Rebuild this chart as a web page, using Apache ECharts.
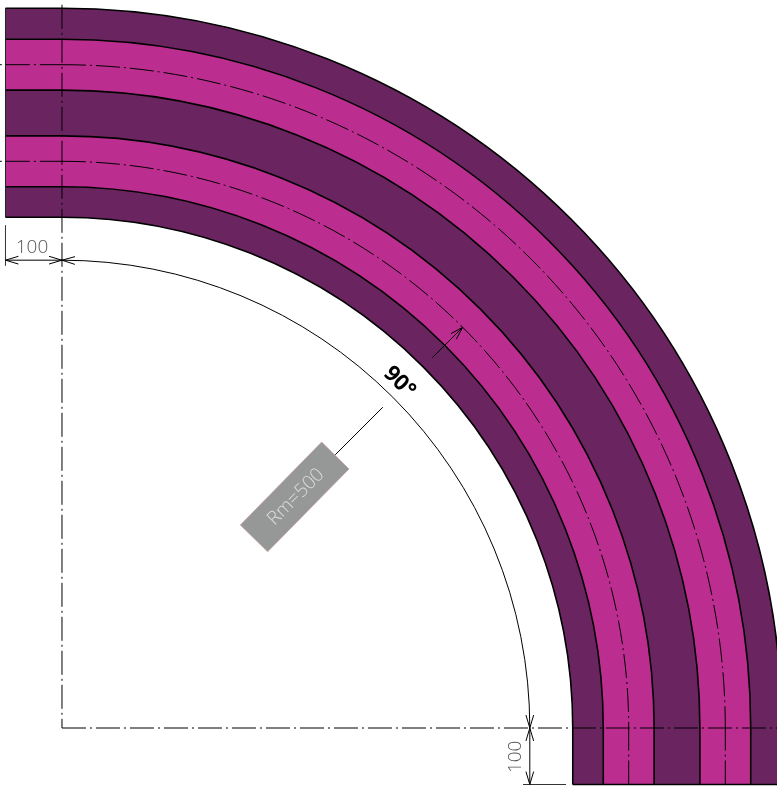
<!DOCTYPE html>
<html><head><meta charset="utf-8">
<style>html,body{margin:0;padding:0;background:#fff}#c{width:777px;height:787px}</style>
<script src="https://cdn.jsdelivr.net/npm/echarts@6/dist/echarts.min.js"></script>
</head><body><div id="c"></div>
<script>
// Values in drawing units (mm), origin at the bend centre
const bandInner = [904, 958, 1048, 1129, 1219];
const bandOuter = [958, 1048, 1129, 1219, 1274];
const bandKind = [0, 1, 0, 1, 0];
const centerRadii = [1003, 1174];
const dimensionRadius = [828];
const tailLength = [100];
const labels = ['100', '100', '90°', 'Rm=500'];
const labelX = [-53, 803, 597, 414];
const labelY = [851, -51, 612, 409];
const leaderRadii = [684, 803];
const pitchRadii = [927, 1003];
const boxX = [459.6, 508, 364, 315.6];
const boxY = [506.2, 458.4, 312, 359.3];

const DARK = '#6a2560', BRIGHT = '#bb2d8f', DASH = [24, 4, 2, 4];
const tail = tailLength[0];
const allRadii = bandInner.concat(bandOuter[bandOuter.length - 1]);

function sectorArc(api, r, style) {
  const c = api.coord([0, 0]), pr = api.size([r, 0])[0];
  return {type: 'arc', shape: {cx: c[0], cy: c[1], r: pr, startAngle: -Math.PI / 2, endAngle: 0, clockwise: true}, style: Object.assign({fill: null}, style)};
}
function seg(api, a, b, style) {
  const p = api.coord(a), q = api.coord(b);
  return {type: 'line', shape: {x1: p[0], y1: p[1], x2: q[0], y2: q[1]}, style: style};
}
function head(api, tip, from, style) {
  const p = api.coord(tip), q = api.coord(from);
  const a = Math.atan2(q[1] - p[1], q[0] - p[0]), L = 13.5, W = 0.29;
  return [1, -1].map(s => ({type: 'line', shape: {x1: p[0], y1: p[1], x2: p[0] + L * Math.cos(a + s * W), y2: p[1] + L * Math.sin(a + s * W)}, style: style}));
}

const bandSeries = {
  type: 'custom', coordinateSystem: 'cartesian2d', silent: true, z: 1,
  data: bandInner.map((r, i) => [r, bandOuter[i], bandKind[i]]),
  renderItem: (p, api) => {
    const r0 = api.value(0), r1 = api.value(1), fill = api.value(2) ? BRIGHT : DARK;
    const c = api.coord([0, 0]);
    const pr0 = api.size([r0, 0])[0], pr1 = api.size([r1, 0])[0];
    const a = api.coord([-tail, r1]), b = api.size([tail, r1 - r0]);
    const d = api.coord([r0, 0]), e = api.size([r1 - r0, tail]);
    return {type: 'group', children: [
      {type: 'sector', shape: {cx: c[0], cy: c[1], r0: pr0, r: pr1, startAngle: -Math.PI / 2, endAngle: 0, clockwise: true}, style: {fill: fill}},
      {type: 'rect', shape: {x: a[0], y: a[1], width: b[0] + 0.5, height: b[1]}, style: {fill: fill}},
      {type: 'rect', shape: {x: d[0], y: d[1] - 0.5, width: e[0], height: e[1] + 0.5}, style: {fill: fill}}
    ]};
  }
};
const edge = {stroke: '#000', lineWidth: 1.6, fill: null};
const edgeSeries = {
  type: 'custom', coordinateSystem: 'cartesian2d', silent: true, z: 2,
  data: allRadii.map(r => [r]),
  renderItem: (p, api) => {
    const r = api.value(0);
    return {type: 'group', children: [
      sectorArc(api, r, edge),
      seg(api, [-tail, r], [0, r], edge),
      seg(api, [r, -tail], [r, 0], edge)
    ]};
  }
};
const closeSeries = {
  type: 'custom', coordinateSystem: 'cartesian2d', silent: true, z: 2,
  data: [[allRadii[0], allRadii[allRadii.length - 1]]],
  renderItem: (p, api) => {
    const a = api.value(0), b = api.value(1), st = {stroke: '#222', lineWidth: 1};
    return {type: 'group', children: [
      seg(api, [-tail, a], [-tail, b], st),
      seg(api, [a, -tail], [b, -tail], edge)
    ]};
  }
};
const dd = {stroke: '#000', lineWidth: 1, lineDash: DASH, fill: null};
const ddLeft = Object.assign({}, dd, {lineDashOffset: 28});
const centerSeries = {
  type: 'custom', coordinateSystem: 'cartesian2d', silent: true, z: 3,
  data: centerRadii.map(r => [r]),
  renderItem: (p, api) => {
    const r = api.value(0);
    return {type: 'group', children: [
      sectorArc(api, r, dd),
      seg(api, [-tail - 10, r], [0, r], ddLeft),
      seg(api, [r, -tail], [r, 0], dd)
    ]};
  }
};
const thin = {stroke: '#000', lineWidth: 1, fill: null};
const axisSeries = {
  type: 'custom', coordinateSystem: 'cartesian2d', silent: true, z: 4,
  data: [[dimensionRadius[0]]],
  renderItem: (p, api) => {
    const outer = allRadii[allRadii.length - 1], R = api.value(0);
    const kids = [
      seg(api, [0, outer + 6], [0, 0], dd),
      seg(api, [0, 0], [outer + 20, 0], dd),
      sectorArc(api, R, thin),
      seg(api, [-tail, R], [0, R], thin),
      seg(api, [R, 0], [R, -tail], thin),
      seg(api, [-tail, R - 10], [-tail, 890], {stroke: '#333', lineWidth: 1}),
      seg(api, [R - 12, -tail], [892, -tail], {stroke: '#333', lineWidth: 1})
    ];
    const st = {stroke: '#000', lineWidth: 1};
    kids.push(...head(api, [-tail, R], [0, R], st), ...head(api, [0, R], [-tail, R], st), ...head(api, [0, R], [40, R - 1], st));
    kids.push(...head(api, [R, 0], [R, 40], st), ...head(api, [R, 0], [R, -tail], st), ...head(api, [R, -tail], [R, 0], st));
    const s = Math.SQRT1_2;
    kids.push(seg(api, [leaderRadii[0] * s, leaderRadii[0] * s], [leaderRadii[1] * s, leaderRadii[1] * s], thin));
    const a = pitchRadii[0] * s, b = pitchRadii[1] * s;
    kids.push(seg(api, [a, a], [b, b], thin), ...head(api, [b, b], [a, a], st));
    return {type: 'group', children: kids};
  }
};
const boxSeries = {
  type: 'custom', coordinateSystem: 'cartesian2d', silent: true, z: 5,
  data: [boxX.concat(boxY)],
  renderItem: (p, api) => {
    const pts = [0, 1, 2, 3].map(i => api.coord([api.value(i), api.value(i + 4)]));
    return {type: 'polygon', shape: {points: pts}, style: {fill: '#969797', stroke: '#c9a0a0', lineWidth: 0.7}};
  }
};
const labelStyles = [
  {font: '300 19px "Open Sans"', fill: '#555', rot: 0},
  {font: '300 19px "Open Sans"', fill: '#555', rot: Math.PI / 2},
  {font: '700 22px "Open Sans"', fill: '#000', rot: -Math.PI / 4},
  {font: '300 19px "Open Sans"', fill: '#dcdcdc', rot: Math.PI / 4}
];
const textSeries = {
  type: 'custom', coordinateSystem: 'cartesian2d', silent: true, z: 6,
  data: labels.map((t, i) => [labelX[i], labelY[i], i]),
  renderItem: (p, api) => {
    const i = api.value(2), q = api.coord([api.value(0), api.value(1)]), s = labelStyles[i];
    return {type: 'text', x: q[0], y: q[1], rotation: s.rot,
      style: {text: labels[i], x: 0, y: 0, align: 'center', verticalAlign: 'middle', font: s.font, fill: s.fill}};
  }
};
const chart = echarts.init(document.getElementById('c'), null, {renderer: 'canvas'});
chart.setOption({
  animation: false,
  backgroundColor: '#fff',
  grid: {left: 0, right: 0, top: 0, bottom: 0},
  xAxis: {type: 'value', min: -109.7, max: 1265.5, show: false},
  yAxis: {type: 'value', min: -104.4, max: 1288.5, show: false},
  series: [bandSeries, edgeSeries, closeSeries, centerSeries, axisSeries, boxSeries, textSeries]
});
</script></body></html>
